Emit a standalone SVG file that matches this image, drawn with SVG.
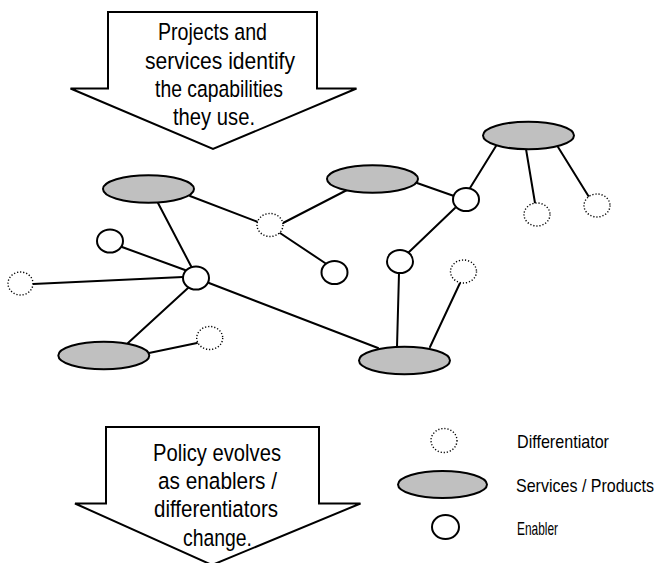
<svg xmlns="http://www.w3.org/2000/svg" width="657" height="563" viewBox="0 0 657 563">
  <style>
    .arrow { fill: #ffffff; stroke: #000000; stroke-width: 2; stroke-linejoin: miter; }
    .edge { stroke: #000000; stroke-width: 2; fill: none; stroke-linecap: round; }
    .service { fill: #c0c0c0; stroke: #000000; stroke-width: 2; }
    .enabler { fill: #ffffff; stroke: #000000; stroke-width: 2; }
    .diff { fill: #ffffff; stroke: #000000; stroke-width: 1.4; stroke-dasharray: 1.2 1.9; }
    .big { font-family: "Liberation Sans", Arial, sans-serif; font-size: 24.5px; fill: #000000; }
    .small { font-family: "Liberation Sans", Arial, sans-serif; font-size: 16px; fill: #000000; }
  </style>

  <!-- top block arrow -->
  <g id="arrow-top">
    <path class="arrow" d="M108,12 H317 V88.5 H356.5 L213,149 L70.5,88.5 H108 Z"/>
    <text class="big" x="158" y="40" textLength="109" lengthAdjust="spacingAndGlyphs">Projects and</text>
    <text class="big" x="145" y="68.5" textLength="150" lengthAdjust="spacingAndGlyphs">services identify</text>
    <text class="big" x="155" y="97" textLength="128" lengthAdjust="spacingAndGlyphs">the capabilities</text>
    <text class="big" x="173" y="125" textLength="82" lengthAdjust="spacingAndGlyphs">they use.</text>
  </g>

  <!-- bottom block arrow -->
  <g id="arrow-bottom">
    <path class="arrow" d="M106,427 H319 V503.5 H360.5 L212,565 L75,503.5 H106 Z"/>
    <text class="big" x="153" y="461" textLength="128" lengthAdjust="spacingAndGlyphs">Policy evolves</text>
    <text class="big" x="158" y="489" textLength="119" lengthAdjust="spacingAndGlyphs">as enablers /</text>
    <text class="big" x="154" y="517" textLength="124" lengthAdjust="spacingAndGlyphs">differentiators</text>
    <text class="big" x="183" y="546" textLength="69" lengthAdjust="spacingAndGlyphs">change.</text>
  </g>

  <!-- connectors -->
  <g id="connectors">
    <line class="edge" x1="158" y1="203" x2="192" y2="268"/>
    <line class="edge" x1="190" y1="196" x2="258" y2="222"/>
    <line class="edge" x1="122" y1="247" x2="185" y2="270"/>
    <line class="edge" x1="33" y1="284" x2="183" y2="277"/>
    <line class="edge" x1="188" y1="288" x2="128" y2="343"/>
    <line class="edge" x1="149" y1="353" x2="197" y2="343"/>
    <line class="edge" x1="209" y1="283" x2="378" y2="348"/>
    <line class="edge" x1="283" y1="223" x2="347" y2="190"/>
    <line class="edge" x1="280" y1="233" x2="325" y2="263"/>
    <line class="edge" x1="417" y1="183" x2="454" y2="196"/>
    <line class="edge" x1="470" y1="188" x2="496" y2="146"/>
    <line class="edge" x1="526" y1="149" x2="535" y2="203"/>
    <line class="edge" x1="558" y1="147" x2="589" y2="197"/>
    <line class="edge" x1="455" y1="208" x2="408" y2="253"/>
    <line class="edge" x1="399" y1="273" x2="397" y2="347"/>
    <line class="edge" x1="460" y1="283" x2="430" y2="347"/>
  </g>

  <!-- services / products -->
  <g id="service-1"><ellipse class="service" cx="148.5" cy="189" rx="45.5" ry="13.8"/></g>
  <g id="service-2"><ellipse class="service" cx="372.5" cy="179" rx="45.5" ry="13.8"/></g>
  <g id="service-3"><ellipse class="service" cx="528.5" cy="135.5" rx="45.5" ry="13.8"/></g>
  <g id="service-4"><ellipse class="service" cx="103.8" cy="355.5" rx="45.5" ry="13.8"/></g>
  <g id="service-5"><ellipse class="service" cx="404.5" cy="360.5" rx="45.5" ry="13.8"/></g>

  <!-- enablers -->
  <g id="enabler-1"><ellipse class="enabler" cx="110" cy="241" rx="13" ry="11.5"/></g>
  <g id="enabler-hub"><ellipse class="enabler" cx="196" cy="278" rx="13" ry="11.5"/></g>
  <g id="enabler-3"><ellipse class="enabler" cx="334.5" cy="272.5" rx="13" ry="11.5"/></g>
  <g id="enabler-4"><ellipse class="enabler" cx="466" cy="199.5" rx="13" ry="11.5"/></g>
  <g id="enabler-5"><ellipse class="enabler" cx="400" cy="261.5" rx="13" ry="11.5"/></g>

  <!-- differentiators -->
  <g id="diff-1"><ellipse class="diff" cx="20.5" cy="283.5" rx="12.5" ry="11.5"/></g>
  <g id="diff-2"><ellipse class="diff" cx="209.7" cy="338" rx="13" ry="11.5"/></g>
  <g id="diff-3"><ellipse class="diff" cx="270" cy="225" rx="13" ry="11.5"/></g>
  <g id="diff-4"><ellipse class="diff" cx="537" cy="214.5" rx="13" ry="11.5"/></g>
  <g id="diff-5"><ellipse class="diff" cx="597" cy="205.5" rx="13" ry="11.5"/></g>
  <g id="diff-6"><ellipse class="diff" cx="463.5" cy="271.5" rx="13" ry="11.5"/></g>

  <!-- legend -->
  <g id="legend">
    <ellipse class="diff" cx="444" cy="440.5" rx="13" ry="12"/>
    <text class="small" transform="translate(517,448) scale(1,1.15)" textLength="92" lengthAdjust="spacingAndGlyphs">Differentiator</text>
    <ellipse class="service" cx="442.5" cy="484.5" rx="44.5" ry="13.5"/>
    <text class="small" transform="translate(516,492) scale(1,1.15)" textLength="138" lengthAdjust="spacingAndGlyphs">Services / Products</text>
    <ellipse class="enabler" cx="445.5" cy="527" rx="13.5" ry="12"/>
    <text class="small" transform="translate(517,535) scale(1,1.15)" textLength="41" lengthAdjust="spacingAndGlyphs">Enabler</text>
  </g>
</svg>
